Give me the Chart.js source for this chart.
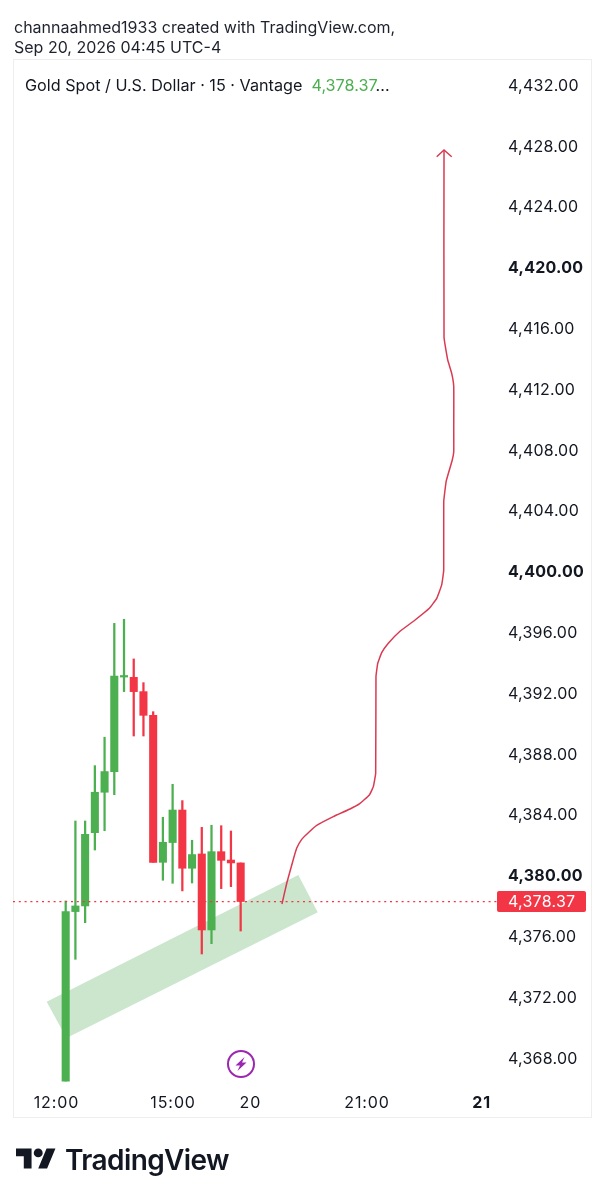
<!DOCTYPE html>
<html>
<head>
<meta charset="utf-8">
<script src="https://cdn.jsdelivr.net/npm/chart.js@4/dist/chart.umd.min.js"></script>
<style>
html,body{margin:0;padding:0;background:#fff;width:606px;height:1200px;overflow:hidden;font-family:Inter,"Liberation Sans",sans-serif;color:#131722}
#wrap{position:absolute;left:0;top:0;width:606px;height:1200px}
.abs{position:absolute;white-space:nowrap}
#frame{position:absolute;left:13px;top:59px;width:579px;height:1059px;border:1px solid #eeeeef;box-sizing:border-box}
</style>
</head>
<body>
<div id="frame"></div>
<div id="wrap"><canvas id="c"></canvas></div>
<div class="abs" style="left:14px;top:15px;font-size:16px;line-height:24px;color:#1e222d">channaahmed1933 created with TradingView.com,</div>
<div class="abs" style="left:14px;top:35px;font-size:16px;line-height:24px;color:#1e222d">Sep 20, 2026 04:45 UTC-4</div>
<div class="abs" style="left:25px;top:73px;font-size:16.2px;line-height:24px;color:#131722">Gold Spot / U.S. Dollar · 15 · Vantage&nbsp; <span style="color:#4caf50">4,378.37</span>...</div>
<svg class="abs" style="left:226px;top:1049px" width="30" height="30" viewBox="0 0 30 30">
<circle cx="15" cy="15" r="13" fill="none" stroke="#9c27b0" stroke-width="2"/>
<path d="M18.5 8 L9.5 16.5 L14 16.5 L11.5 22 L20.5 13.5 L16 13.5 Z" fill="#9c27b0"/>
</svg>
<svg class="abs" style="left:16px;top:1143.5px" width="40" height="31.1" viewBox="0 0 36 28">
<path d="M14 22H7V11H0V4h14v18zM28 22h-8l7.5-18h8L28 22z" fill="#131722"/><circle cx="20" cy="8" r="4" fill="#131722"/>
</svg>
<div class="abs" style="left:65px;top:1142px;font-size:28px;line-height:36px;font-weight:600;letter-spacing:-0.6px;color:#131722">TradingView</div>
<script>
// candle index on the time axis, prices in USD
const opens  = [4366.47,4377.62,4377.99,4382.81,4385.47,4386.83,4393.05,4393.03,4392.09,4390.53,4380.86,4382.16,4384.30,4380.47,4381.41,4376.41,4381.56,4381.01,4380.82];
const closes = [4377.62,4377.99,4382.70,4385.47,4386.83,4393.12,4393.15,4392.09,4390.53,4380.86,4382.18,4384.30,4380.47,4381.37,4376.41,4381.56,4380.99,4380.82,4378.28];
const highs  = [4378.32,4383.58,4383.58,4387.22,4389.09,4396.58,4396.85,4394.24,4392.68,4390.77,4383.82,4385.99,4384.92,4382.31,4383.16,4383.30,4383.27,4382.92,4380.82];
const lows   = [4366.47,4374.48,4376.89,4381.67,4382.94,4385.31,4392.09,4389.17,4389.17,4380.86,4379.68,4379.48,4378.98,4379.50,4374.83,4375.51,4379.13,4379.26,4376.34];
const lastPriceLevel = 4378.28;
const lastPriceText = '4,378.37';
const priceTicks = [4432,4428,4424,4420,4416,4412,4408,4404,4400,4396,4392,4388,4384,4380,4376,4372,4368];
const boldPrices = [4420,4400,4380];
const timeTickPos = [-0.95,11.05,19,31,42.8];
const timeTickLabels = ['12:00','15:00','20','21:00','21'];
const boldTimes = ['21'];
// drawn channel: bar index, price
const bandX = [-1.955,23.93,25.93,0.08,-1.955];
const bandY = [4371.69,4380.03,4377.57,4369.30,4371.69];
// hand-drawn projection: bar index, price
const pathX = [22.25,22.74,23.35,23.76,24.28,24.96,25.82,27.53,29.25,30.21,31.24,31.65,31.89,31.92,32.1,32.51,33.19,34.39,35.94,37.41,38.17,38.68,38.89,38.89,39.15,39.77,39.92,39.92,39.92,39.71,39.3,38.92,38.92];
const pathY = [4378.12,4379.48,4380.90,4381.78,4382.37,4382.81,4383.29,4383.87,4384.37,4384.70,4385.29,4385.84,4386.72,4393.07,4393.95,4394.65,4395.27,4396.06,4396.80,4397.57,4398.23,4399.11,4400.09,4404.59,4405.95,4407.33,4407.87,4409.30,4412.15,4413.03,4413.91,4415.40,4427.72];
const arrowX = [38.17,38.92,39.71];
const arrowY = [4427.28,4427.72,4427.28];

const GREEN='#4caf50', RED='#f23645', DRAW='#d93a52';
const colors = opens.map((o,i)=> closes[i]>=o ? GREEN : RED);
const zip = (xs,ys)=>xs.map((x,i)=>({x,y:ys[i]}));

// nudges axis label drawing: tracking and baseline of the reference's UI font
function tuneLabels(scale,spacing,dy){
  if(scale._tuned) return;
  scale._tuned = true;
  const draw = scale.drawLabels.bind(scale);
  scale.drawLabels = area => {
    const ctx = scale.ctx;
    ctx.save();
    ctx.translate(0,dy);
    ctx.letterSpacing = spacing;
    draw(area);
    ctx.restore();
  };
}

const priceTag = {
  id:'priceTag',
  afterDraw(chart){
    const {ctx,scales:{y}} = chart;
    const py = y.getPixelForValue(lastPriceLevel);
    ctx.save();
    ctx.fillStyle = RED;
    ctx.beginPath();
    ctx.roundRect(chart.chartArea.right, py-10.5, 89, 21, 2);
    ctx.fill();
    ctx.fillStyle = '#fff';
    ctx.font = '16px Inter';
    ctx.letterSpacing = '0.25px';
    ctx.textBaseline = 'middle';
    ctx.textAlign = 'left';
    ctx.fillText(lastPriceText, chart.chartArea.right+11, py+0.5);
    ctx.restore();
  }
};

new Chart(document.getElementById('c'),{
  type:'bar',
  data:{datasets:[
    {type:'line',data:zip(bandX,bandY),fill:'shape',backgroundColor:'#cbe6cd',borderWidth:0,pointRadius:0,order:5},
    {data:opens.map((o,i)=>({x:i,y:[lows[i],highs[i]]})),backgroundColor:colors,barThickness:1.6,grouped:false,order:4},
    {data:opens.map((o,i)=>({x:i,y:[o,closes[i]]})),backgroundColor:colors,barThickness:7.4,grouped:false,order:3},
    {type:'line',data:[{x:-5.42,y:lastPriceLevel},{x:44.37,y:lastPriceLevel}],borderColor:RED,borderWidth:1.3,borderDash:[2,3.8],pointRadius:0,order:2},
    {type:'line',data:zip(pathX,pathY),borderColor:DRAW,borderWidth:1.5,pointRadius:0,tension:0.1,order:1},
    {type:'line',data:zip(arrowX,arrowY),borderColor:DRAW,borderWidth:1.5,pointRadius:0,order:1}
  ]},
  options:{
    responsive:true,maintainAspectRatio:false,animation:false,
    layout:{padding:{left:13,top:59,right:0,bottom:82}},
    plugins:{legend:{display:false},tooltip:{enabled:false}},
    scales:{
      x:{type:'linear',min:-5.42,max:44.37,offset:false,
        grid:{display:false,drawTicks:false},border:{display:false},
        afterBuildTicks(s){s.ticks=timeTickPos.map(value=>({value}));},
        afterFit(s){s.height=33;tuneLabels(s,'0.9px',1);},
        ticks:{autoSkip:false,maxRotation:0,padding:8,color:'#131722',
          font:c=>({family:'Inter',size:16,weight:boldTimes.includes(timeTickLabels[c.index])?'700':'400'}),
          callback:(v,i)=>timeTickLabels[i]}},
      y:{type:'linear',position:'right',min:4366.21,max:4433.71,
        grid:{display:false,drawTicks:false},border:{display:false},
        afterBuildTicks(s){s.ticks=priceTicks.slice().reverse().map(value=>({value}));},
        afterFit(s){s.width=109;tuneLabels(s,'0.25px',1);},
        ticks:{autoSkip:false,padding:11,color:'#131722',crossAlign:'near',
          font:c=>({family:'Inter',size:16,weight:c.tick&&boldPrices.includes(c.tick.value)?'700':'400'}),
          callback:v=>v.toLocaleString('en-US',{minimumFractionDigits:2})}}
    }
  },
  plugins:[priceTag]
});
</script>
</body>
</html>
